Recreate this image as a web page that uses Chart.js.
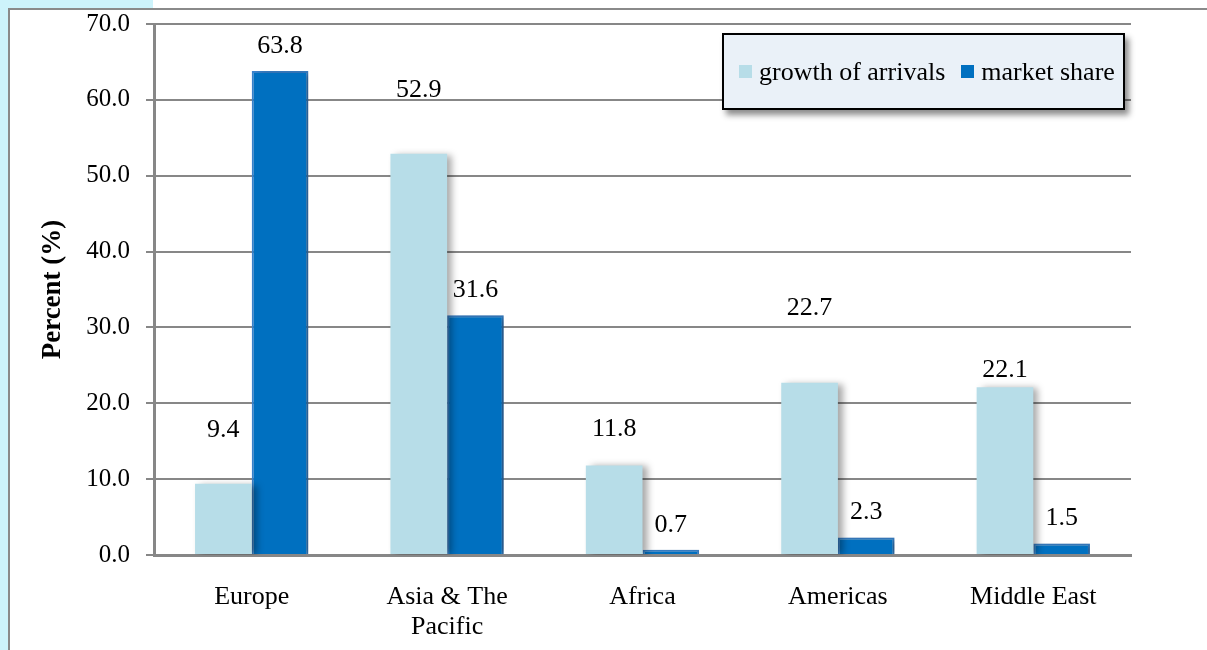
<!DOCTYPE html>
<html>
<head>
<meta charset="utf-8">
<title>Arrivals by region</title>
<script src="https://cdn.jsdelivr.net/npm/chart.js@4.4.1/dist/chart.umd.min.js"></script>
<style>
  html, body { margin: 0; padding: 0; background: #ffffff; overflow: hidden; }
  #wrap { position: relative; width: 1207px; height: 650px; }
  #chart { position: absolute; left: 0; top: 0; }
  #legend {
    position: absolute; left: 722px; top: 33px; width: 403px; height: 77px;
    box-sizing: border-box; border: 2px solid #000; background: #eaf1f8;
    box-shadow: 4px 5px 6px rgba(0,0,0,0.45);
    display: flex; align-items: center; padding-left: 15px;
    font-family: "Liberation Serif", "Times New Roman", serif; font-size: 26px; color: #000;
  }
  #legend .item { display: flex; align-items: center; margin-right: 16px; white-space: nowrap; }
  #legend .swatch { width: 13px; height: 13px; margin-right: 7px; box-sizing: border-box; }
</style>
</head>
<body>
<div id="wrap">
  <canvas id="chart" width="1207" height="650"></canvas>
  <div id="legend"></div>
</div>
<script>
// Regions and the two series (percent)
const categories = ['Europe', ['Asia & The', 'Pacific'], 'Africa', 'Americas', 'Middle East'];
const growthOfArrivals = [9.4, 52.9, 11.8, 22.7, 22.1];
const marketShare = [63.8, 31.6, 0.7, 2.3, 1.5];
const yTicks = [0, 10, 20, 30, 40, 50, 60, 70];

// How far (px) each value label sits above its bar
const growthLabelLift = [54, 64, 36, 75, 17];
const shareLabelLift = [25, 25, 25, 25, 25];

const SERIF = '"Liberation Serif", "Times New Roman", serif';
const GRID = '#878787';

// Page frame: pale cyan margin strips and a grey rule
const framePlugin = {
  id: 'frame',
  beforeDraw(chart) {
    const ctx = chart.ctx;
    ctx.save();
    ctx.fillStyle = '#cdf3fb';
    ctx.fillRect(0, 0, 8, chart.height);
    ctx.fillRect(0, 0, 153, 8);
    ctx.fillStyle = '#8a8a8a';
    ctx.fillRect(8, 8, 2, chart.height - 8);
    ctx.fillRect(8, 8, chart.width - 8, 2);
    ctx.restore();
  }
};

// Soft drop shadow to the right of each bar
const barShadow = {
  id: 'barShadow',
  beforeDatasetsDraw(chart) {
    const ctx = chart.ctx;
    ctx.save();
    ctx.shadowColor = 'rgba(0,0,0,0.35)';
    ctx.shadowBlur = 7;
    ctx.shadowOffsetX = 5;
    ctx.shadowOffsetY = 1;
  },
  afterDatasetsDraw(chart) {
    chart.ctx.restore();
  }
};

// Value labels above the bars
const valueLabels = {
  id: 'valueLabels',
  afterDatasetsDraw(chart) {
    const ctx = chart.ctx;
    const lifts = [growthLabelLift, shareLabelLift];
    ctx.save();
    ctx.font = '26px ' + SERIF;
    ctx.fillStyle = '#000';
    ctx.textAlign = 'center';
    ctx.textBaseline = 'middle';
    chart.data.datasets.forEach((ds, di) => {
      const meta = chart.getDatasetMeta(di);
      meta.data.forEach((bar, i) => {
        ctx.fillText(ds.data[i].toFixed(1), bar.x, bar.y - lifts[di][i]);
      });
    });
    ctx.restore();
  }
};

const chart = new Chart(document.getElementById('chart'), {
  type: 'bar',
  data: {
    labels: categories,
    datasets: [
      {
        label: 'growth of arrivals',
        data: growthOfArrivals,
        backgroundColor: '#b7dde8',
        borderWidth: 0
      },
      {
        label: 'market share',
        data: marketShare,
        backgroundColor: '#0070c0',
        borderColor: '#3a83cc',
        borderWidth: 2,
        borderSkipped: 'bottom'
      }
    ]
  },
  options: {
    responsive: false,
    animation: false,
    events: [],
    layout: { padding: { left: 0, top: 24, right: 76, bottom: 0 } },
    datasets: { bar: { categoryPercentage: 0.58, barPercentage: 1.0 } },
    plugins: {
      legend: { display: false },
      tooltip: { enabled: false }
    },
    scales: {
      x: {
        grid: { display: false, drawTicks: false },
        border: { display: true, color: GRID, width: 3 },
        ticks: {
          color: '#000',
          padding: 27,
          maxRotation: 0,
          autoSkip: false,
          font: { family: SERIF, size: 26, lineHeight: 1.17 }
        },
        afterFit(scale) { scale.height = 95; }
      },
      y: {
        min: 0,
        max: 70,
        afterBuildTicks(scale) { scale.ticks = yTicks.map(v => ({ value: v })); },
        grid: { color: GRID, lineWidth: 2, tickLength: 8, drawOnChartArea: true },
        border: { display: true, color: GRID, width: 3 },
        ticks: {
          color: '#000',
          padding: 16,
          font: { family: SERIF, size: 25 },
          callback: v => Number(v).toFixed(1)
        },
        title: {
          display: true,
          text: 'Percent (%)',
          color: '#000',
          padding: { top: 37, bottom: 0 },
          font: { family: SERIF, size: 27, weight: 'bold' }
        },
        afterFit(scale) {
          scale.width = 154;
          scale.paddingTop = 0;
          scale.paddingBottom = 0;
        }
      }
    }
  },
  plugins: [framePlugin, barShadow, valueLabels]
});

// Legend box built from the chart's own legend items
const legendEl = document.getElementById('legend');
Chart.defaults.plugins.legend.labels.generateLabels(chart).forEach(item => {
  const el = document.createElement('div');
  el.className = 'item';
  const sw = document.createElement('span');
  sw.className = 'swatch';
  sw.style.background = item.fillStyle;
  const tx = document.createElement('span');
  tx.textContent = item.text;
  el.appendChild(sw);
  el.appendChild(tx);
  legendEl.appendChild(el);
});
</script>
</body>
</html>
